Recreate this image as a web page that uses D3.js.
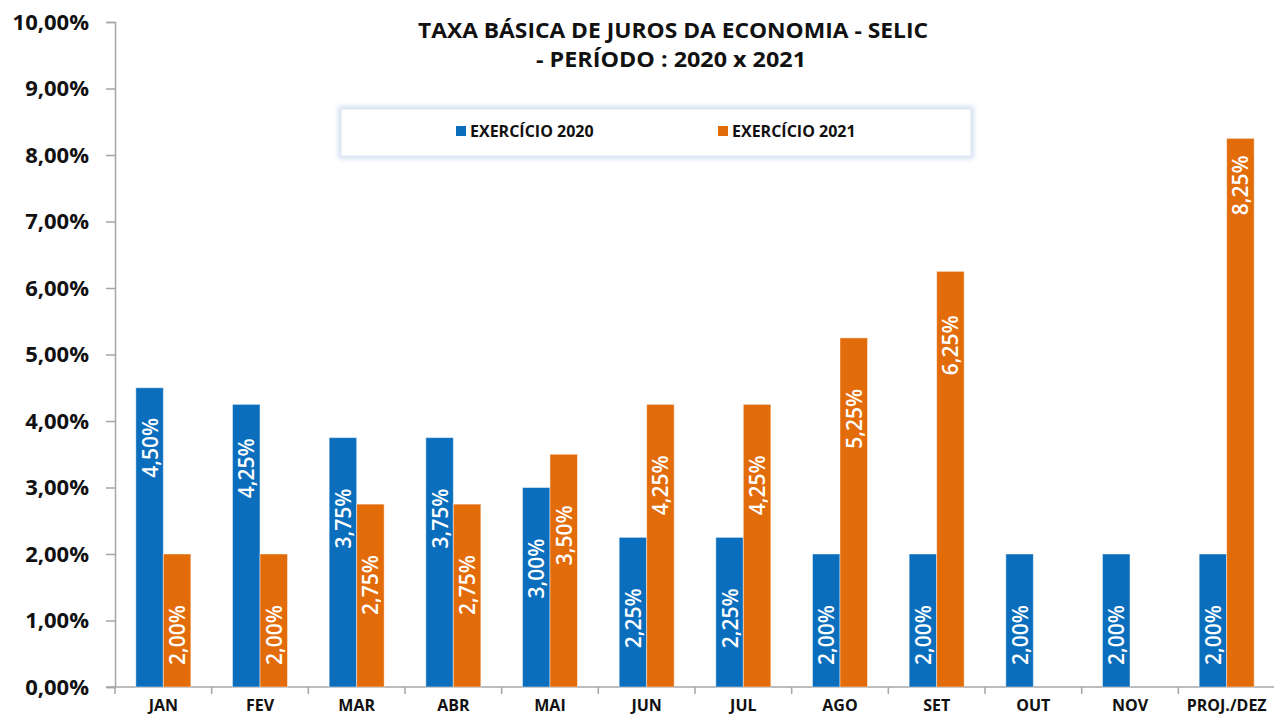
<!DOCTYPE html>
<html>
<head>
<meta charset="utf-8">
<script src="https://cdn.jsdelivr.net/npm/d3@7"></script>
<style>
  body { margin: 0; background: #fff; }
  svg { display: block; font-family: "Open Sans", "Noto Sans", sans-serif; }
</style>
</head>
<body>
<div class="vis1"></div>
<script>
// Chart data
var months = ["JAN", "FEV", "MAR", "ABR", "MAI", "JUN", "JUL", "AGO", "SET", "OUT", "NOV", "PROJ./DEZ"];
var selic2020 = [4.50, 4.25, 3.75, 3.75, 3.00, 2.25, 2.25, 2.00, 2.00, 2.00, 2.00, 2.00];
var selic2021 = [2.00, 2.00, 2.75, 2.75, 3.50, 4.25, 4.25, 5.25, 6.25, null, null, 8.25];
var seriesNames = ["EXERCÍCIO 2020", "EXERCÍCIO 2021"];
var yTicks = [0, 1, 2, 3, 4, 5, 6, 7, 8, 9, 10];

var width = 1274, height = 718;
var colors = ["#0A6EBD", "#E36C0A"];

var svg = d3.select(".vis1")
  .append("svg")
  .attr("width", width)
  .attr("height", height);

// Scales
var y = d3.scaleLinear().domain([0, 10]).range([687, 22]);
var x0 = d3.scaleBand().domain(months).range([115, 1275]).padding(0);
var bw = x0.bandwidth();
var x1 = d3.scaleBand().domain([0, 1]).range([(bw - 55) / 2, (bw + 55) / 2]).padding(0);

var fmt = function(v) { return d3.format(".2f")(v).replace(".", ",") + "%"; };

// Y axis
var yAxis = svg.append("g")
  .attr("transform", "translate(115,0)")
  .call(d3.axisLeft(y).tickValues(yTicks).tickSize(9).tickPadding(17).tickFormat(fmt));
yAxis.select(".domain").attr("stroke", "#a6a6a6").attr("stroke-width", 1.5);
yAxis.selectAll(".tick line").attr("stroke", "#a6a6a6").attr("stroke-width", 1.5);
yAxis.selectAll(".tick text")
  .attr("font-size", "22px")
  .attr("font-weight", "bold")
  .attr("fill", "#111")
  .attr("font-family", "'Open Sans', sans-serif");

// X axis
var xAxis = svg.append("g")
  .attr("transform", "translate(0,687)");
xAxis.append("line")
  .attr("x1", 106).attr("x2", 1274)
  .attr("stroke", "#a6a6a6").attr("stroke-width", 1.5);
xAxis.selectAll("line.tk")
  .data(months)
  .enter()
  .append("line")
  .attr("class", "tk")
  .attr("x1", function(d) { return x0(d); })
  .attr("x2", function(d) { return x0(d); })
  .attr("y1", 0).attr("y2", 7)
  .attr("stroke", "#a6a6a6").attr("stroke-width", 1.5);
xAxis.selectAll("text")
  .data(months)
  .enter()
  .append("text")
  .attr("x", function(d) { return x0(d) + bw / 2; })
  .attr("y", 24)
  .attr("text-anchor", "middle")
  .attr("font-size", "16px")
  .attr("font-weight", "bold")
  .attr("fill", "#111")
  .text(function(d) { return d; });

// Bars
var rows = [];
months.forEach(function(m, i) {
  [selic2020[i], selic2021[i]].forEach(function(v, s) {
    if (v != null) rows.push({month: m, s: s, value: v});
  });
});

svg.append("g").selectAll("rect")
  .data(rows)
  .enter()
  .append("rect")
  .attr("x", function(d) { return x0(d.month) + x1(d.s); })
  .attr("y", function(d) { return y(d.value); })
  .attr("width", x1.bandwidth())
  .attr("height", function(d) { return y(0) - y(d.value); })
  .attr("fill", function(d) { return colors[d.s]; })
  .attr("stroke", "rgba(255,255,255,0.45)")
  .attr("stroke-width", 1);

// Value labels (some were dragged up in the original)
var nudge = {"JAN-0": -21, "FEV-0": -17, "SET-1": -7, "PROJ./DEZ-1": -34};
svg.append("g").selectAll("text")
  .data(rows)
  .enter()
  .append("text")
  .attr("transform", function(d) {
    var cx = x0(d.month) + x1(d.s) + x1.bandwidth() / 2;
    var cy = y(d.value) + 81 + (nudge[d.month + "-" + d.s] || 0);
    return "translate(" + cx + "," + cy + ") rotate(-90)";
  })
  .attr("text-anchor", "middle")
  .attr("dominant-baseline", "central")
  .attr("font-size", "21px")
  .attr("font-weight", 600)
  .attr("fill", "#fff")
  .text(function(d) { return fmt(d.value); });

// Title
var title = svg.append("g").attr("font-weight", "bold").attr("fill", "#111").attr("font-size", "22px")
  .style("white-space", "pre");
title.append("text").attr("x", 673).attr("y", 38).attr("text-anchor", "middle")
  .attr("textLength", 510).attr("lengthAdjust", "spacingAndGlyphs")
  .text("TAXA BÁSICA DE JUROS DA ECONOMIA  - SELIC");
title.append("text").attr("x", 671).attr("y", 67).attr("text-anchor", "middle")
  .attr("textLength", 270).attr("lengthAdjust", "spacingAndGlyphs")
  .text("- PERÍODO  : 2020 x 2021");

// Legend
var defs = svg.append("defs");
defs.append("filter").attr("id", "glow").attr("x", "-5%").attr("y", "-40%").attr("width", "110%").attr("height", "180%")
  .append("feGaussianBlur").attr("stdDeviation", 2.5);

var legend = svg.append("g");
legend.append("rect")
  .attr("x", 341).attr("y", 109).attr("width", 630).attr("height", 47)
  .attr("fill", "none").attr("stroke", "#d3e2f3").attr("stroke-width", 6)
  .attr("filter", "url(#glow)");
legend.append("rect")
  .attr("x", 341).attr("y", 109).attr("width", 630).attr("height", 47)
  .attr("fill", "#fff").attr("stroke", "#dbe6f2").attr("stroke-width", 1);

var legendX = [456, 718];
seriesNames.forEach(function(name, i) {
  legend.append("rect")
    .attr("x", legendX[i]).attr("y", 126)
    .attr("width", 10).attr("height", 10)
    .attr("fill", colors[i]);
  legend.append("text")
    .attr("x", legendX[i] + 14).attr("y", 137)
    .attr("font-size", "16px")
    .attr("font-weight", "bold")
    .attr("fill", "#111")
    .text(name);
});
</script>
</body>
</html>
